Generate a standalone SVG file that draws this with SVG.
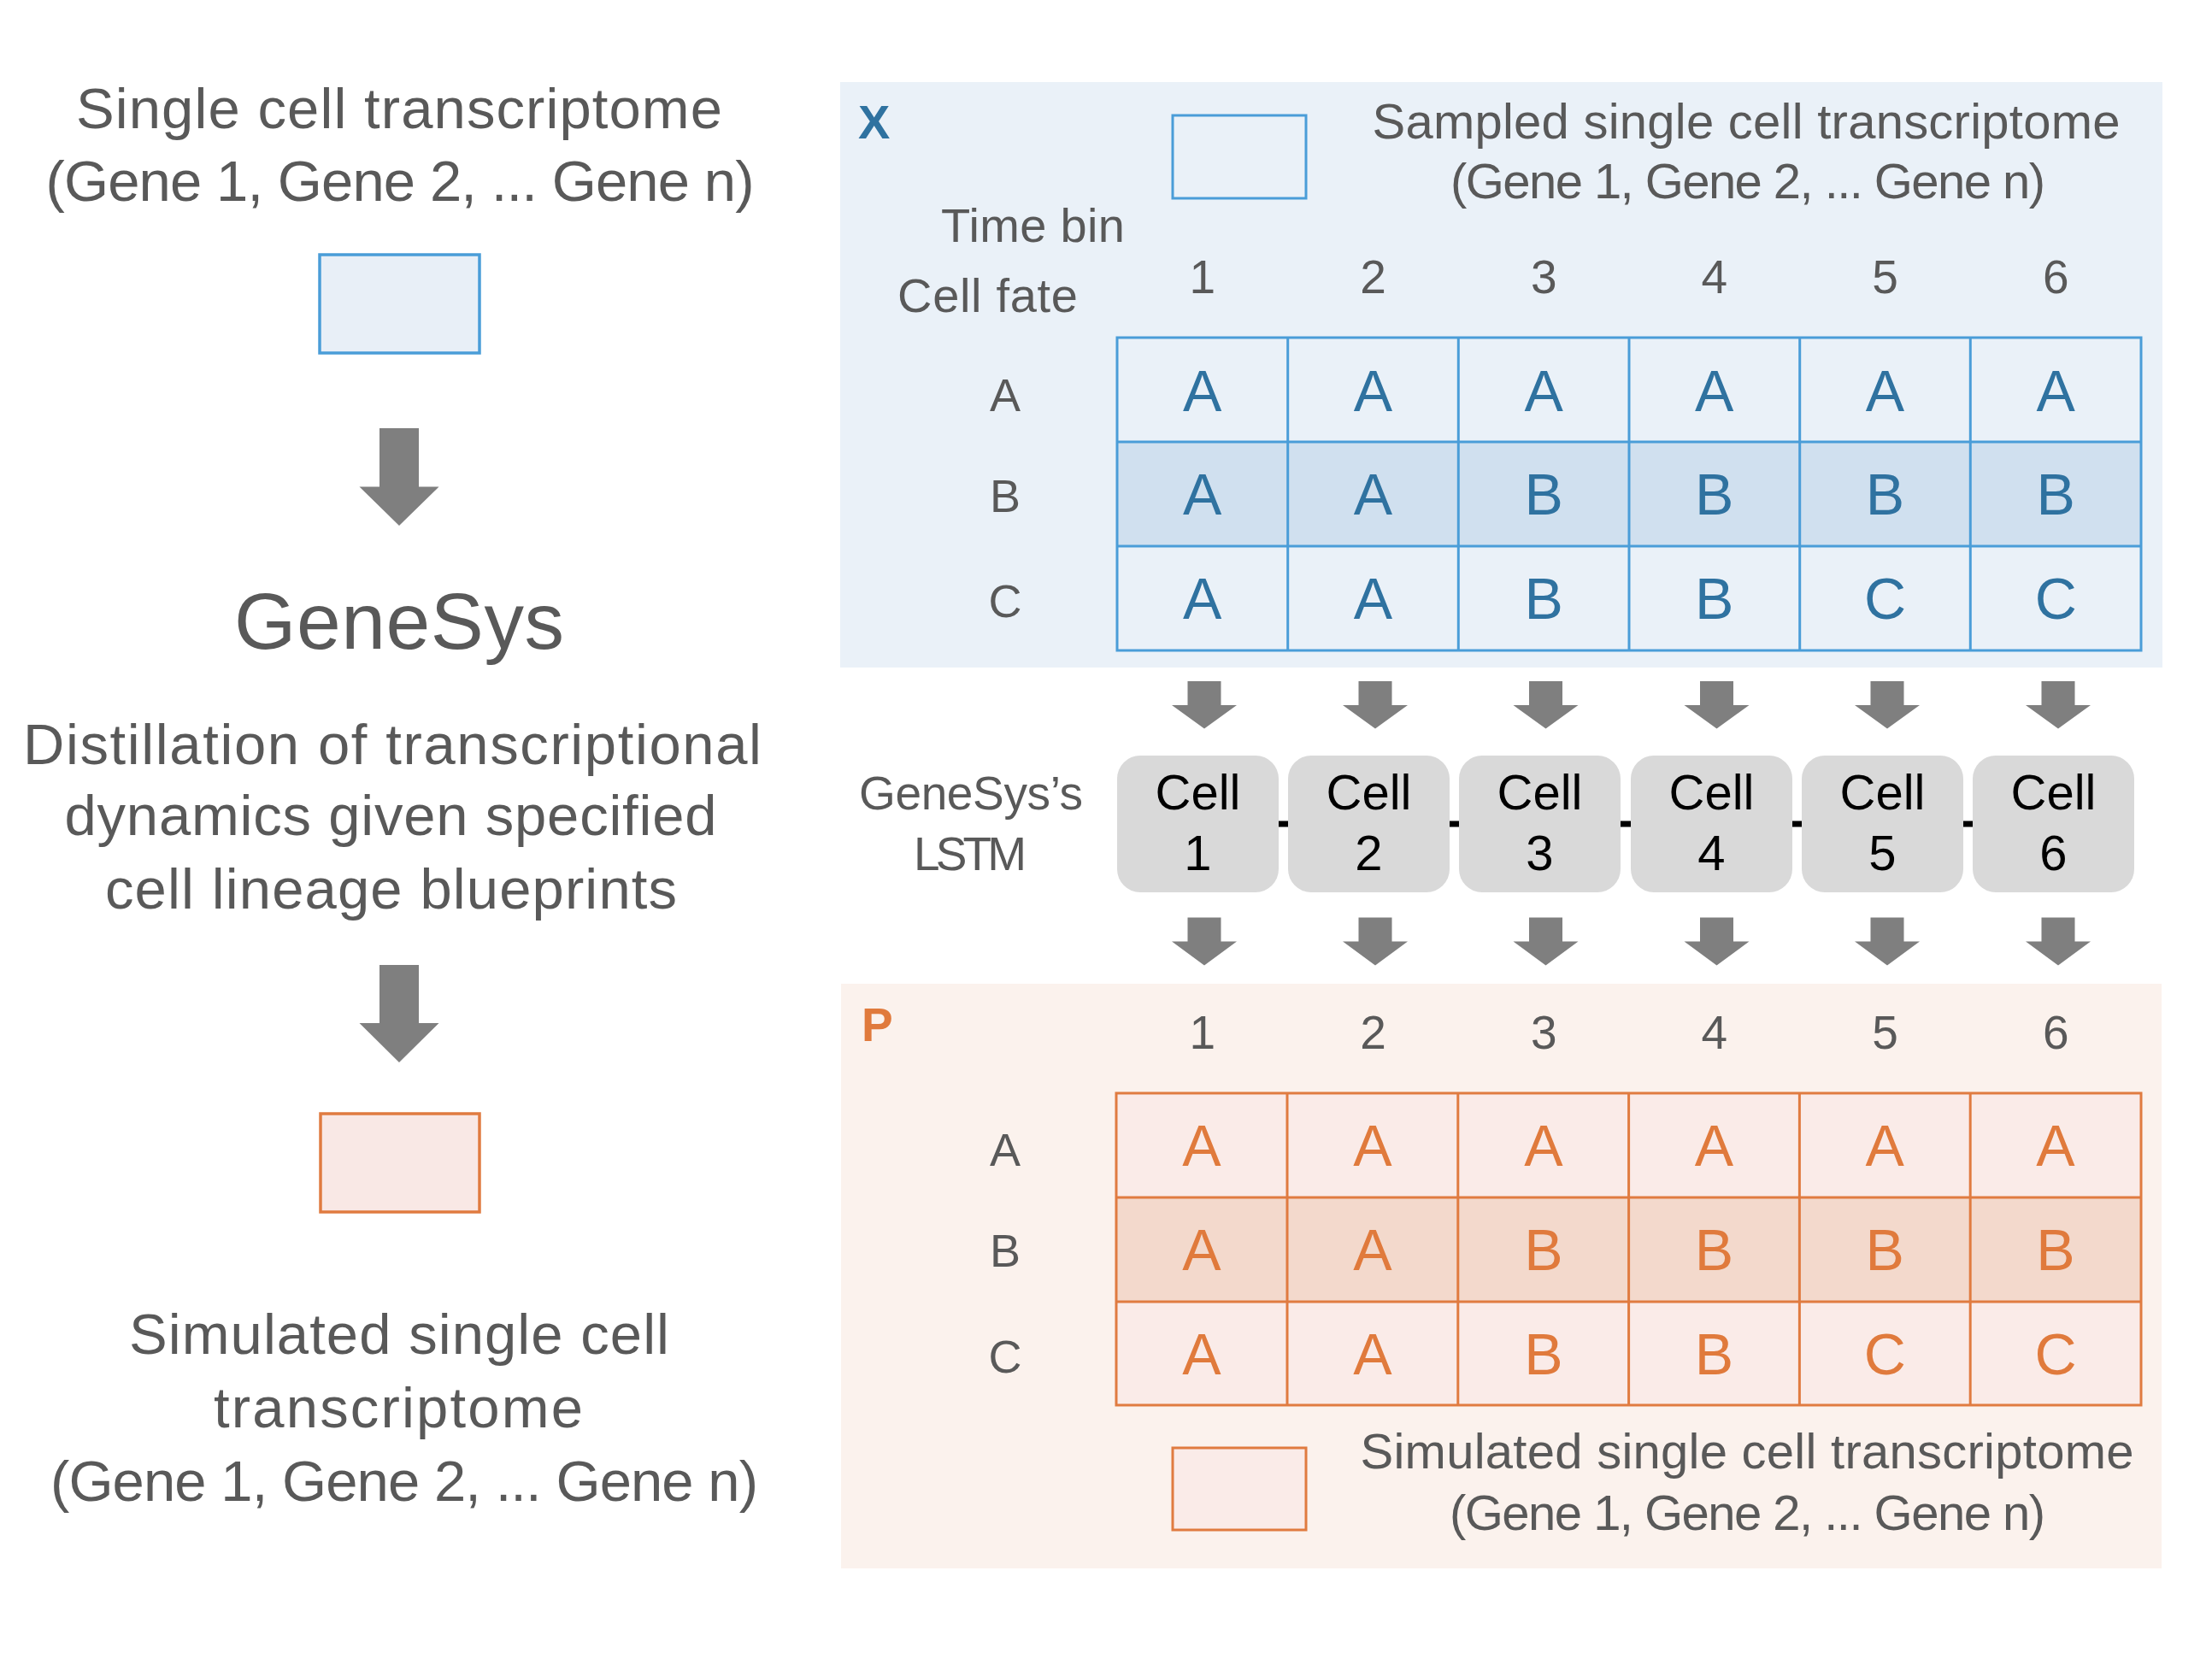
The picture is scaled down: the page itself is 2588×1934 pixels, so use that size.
<svg xmlns="http://www.w3.org/2000/svg" width="2588" height="1934" viewBox="0 0 2588 1934">
<style>
text{font-family:"Liberation Sans",Arial,sans-serif;}
.g{fill:#595959;}
.lc{font-size:67px;text-anchor:middle;}
.leg{font-size:58px;text-anchor:middle;}
.hd{font-size:55px;text-anchor:middle;}
.rl{font-size:54px;text-anchor:middle;}
.cb{font-size:68px;text-anchor:middle;fill:#2F72A0;}
.co{font-size:68px;text-anchor:middle;fill:#E07A3C;}
.bl{fill:none;stroke:#4A9DD8;stroke-width:3;}
.or{fill:none;stroke:#E07B40;stroke-width:3;}
.cellbox{fill:#D9D9D9;}
.ct{font-size:58px;text-anchor:middle;fill:#000;}
.arr{fill:#7F7F7F;}
.dash{stroke:#000;stroke-width:7;}
</style>
<rect width="2588" height="1934" fill="#FFFFFF"/>

<g id="left-input">
<text class="g lc" x="467" y="150" textLength="756">Single cell transcriptome</text>
<text class="g lc" x="468" y="235" textLength="829">(Gene 1, Gene 2, ... Gene n)</text>
<rect x="374" y="298" width="187" height="115" fill="#E8EFF7" stroke="#4A9DD8" stroke-width="3.5"/>
</g>

<g id="left-genesys">
<text class="g" x="467" y="759" font-size="93" text-anchor="middle" textLength="386">GeneSys</text>
<text class="g lc" x="459" y="894" textLength="864">Distillation of transcriptional</text>
<text class="g lc" x="457" y="977" textLength="763">dynamics given specified</text>
<text class="g lc" x="457.5" y="1063" textLength="669">cell lineage blueprints</text>
</g>

<g id="left-output">
<rect x="375" y="1303" width="186" height="115" fill="#F9E8E5" stroke="#E07B40" stroke-width="3.5"/>
<text class="g lc" x="467" y="1584" textLength="632">Simulated single cell</text>
<text class="g lc" x="466" y="1670" textLength="432">transcriptome</text>
<text class="g lc" x="473" y="1756" textLength="828">(Gene 1, Gene 2, ... Gene n)</text>
</g>

<g id="panel-x">
<rect x="983" y="96" width="1547" height="685" fill="#EAF1F8"/>
<text x="1004" y="162" font-size="56" font-weight="bold" fill="#2F72A0">X</text>
<rect x="1372" y="135" width="156" height="97" class="bl"/>
<text class="g leg" x="2043" y="162" textLength="875">Sampled single cell transcriptome</text>
<text class="g leg" x="2045" y="232" textLength="696">(Gene 1, Gene 2, ... Gene n)</text>
<text class="g" x="1101" y="283" font-size="56" textLength="215">Time bin</text>
<text class="g" x="1050" y="365" font-size="56" textLength="211">Cell fate</text>
<g class="g hd">
<text x="1406.8" y="343">1</text><text x="1606.5" y="343">2</text><text x="1806.2" y="343">3</text>
<text x="2005.8" y="343">4</text><text x="2205.5" y="343">5</text><text x="2405.2" y="343">6</text>
</g>
<g class="g rl">
<text x="1176" y="481">A</text><text x="1176" y="599">B</text><text x="1176" y="722">C</text>
</g>
<rect x="1307" y="517" width="1198" height="122" fill="#D0E0EF"/>
<g class="bl">
<rect x="1307" y="395" width="1198" height="366"/>
<line x1="1307" y1="517" x2="2505" y2="517"/>
<line x1="1307" y1="639" x2="2505" y2="639"/>
<line x1="1506.7" y1="395" x2="1506.7" y2="761"/>
<line x1="1706.3" y1="395" x2="1706.3" y2="761"/>
<line x1="1906" y1="395" x2="1906" y2="761"/>
<line x1="2105.7" y1="395" x2="2105.7" y2="761"/>
<line x1="2305.3" y1="395" x2="2305.3" y2="761"/>
</g>
<g class="cb">
<text x="1406.8" y="481">A</text><text x="1606.5" y="481">A</text><text x="1806.2" y="481">A</text>
<text x="2005.8" y="481">A</text><text x="2205.5" y="481">A</text><text x="2405.2" y="481">A</text>
<text x="1406.8" y="602">A</text><text x="1606.5" y="602">A</text><text x="1806.2" y="602">B</text>
<text x="2005.8" y="602">B</text><text x="2205.5" y="602">B</text><text x="2405.2" y="602">B</text>
<text x="1406.8" y="724">A</text><text x="1606.5" y="724">A</text><text x="1806.2" y="724">B</text>
<text x="2005.8" y="724">B</text><text x="2205.5" y="724">C</text><text x="2405.2" y="724">C</text>
</g>
</g>

<g id="lstm">
<text class="g" x="1136" y="947" font-size="55" text-anchor="middle" textLength="262">GeneSys’s</text>
<text class="g" x="1135" y="1018" font-size="55" text-anchor="middle" textLength="132">LSTM</text>
</g>
<g id="cell1"><rect class="cellbox" x="1307" y="884" width="189" height="160" rx="27"/><text class="ct" x="1401.5" y="947">Cell</text><text class="ct" x="1401.5" y="1018">1</text></g>
<g id="cell2"><rect class="cellbox" x="1507" y="884" width="189" height="160" rx="27"/><text class="ct" x="1601.5" y="947">Cell</text><text class="ct" x="1601.5" y="1018">2</text></g>
<g id="cell3"><rect class="cellbox" x="1707" y="884" width="189" height="160" rx="27"/><text class="ct" x="1801.5" y="947">Cell</text><text class="ct" x="1801.5" y="1018">3</text></g>
<g id="cell4"><rect class="cellbox" x="1908" y="884" width="189" height="160" rx="27"/><text class="ct" x="2002.5" y="947">Cell</text><text class="ct" x="2002.5" y="1018">4</text></g>
<g id="cell5"><rect class="cellbox" x="2108" y="884" width="189" height="160" rx="27"/><text class="ct" x="2202.5" y="947">Cell</text><text class="ct" x="2202.5" y="1018">5</text></g>
<g id="cell6"><rect class="cellbox" x="2308" y="884" width="189" height="160" rx="27"/><text class="ct" x="2402.5" y="947">Cell</text><text class="ct" x="2402.5" y="1018">6</text></g>

<g id="panel-p">
<rect x="984" y="1151" width="1545" height="684" fill="#FBF2ED"/>
<text x="1008" y="1218" font-size="55" font-weight="bold" fill="#E07A3C">P</text>
<g class="g hd">
<text x="1406.8" y="1227">1</text><text x="1606.5" y="1227">2</text><text x="1806.2" y="1227">3</text>
<text x="2005.8" y="1227">4</text><text x="2205.5" y="1227">5</text><text x="2405.2" y="1227">6</text>
</g>
<g class="g rl">
<text x="1176" y="1364">A</text><text x="1176" y="1482">B</text><text x="1176" y="1606">C</text>
</g>
<rect x="1306" y="1279" width="1199" height="365" fill="#FAEBE8"/>
<rect x="1306" y="1401" width="1199" height="122" fill="#F3D9CC"/>
<g class="or">
<rect x="1306" y="1279" width="1199" height="365"/>
<line x1="1306" y1="1401" x2="2505" y2="1401"/>
<line x1="1306" y1="1523" x2="2505" y2="1523"/>
<line x1="1506" y1="1279" x2="1506" y2="1644"/>
<line x1="1705.8" y1="1279" x2="1705.8" y2="1644"/>
<line x1="1905.6" y1="1279" x2="1905.6" y2="1644"/>
<line x1="2105.4" y1="1279" x2="2105.4" y2="1644"/>
<line x1="2305.2" y1="1279" x2="2305.2" y2="1644"/>
</g>
<g class="co">
<text x="1406" y="1364">A</text><text x="1606" y="1364">A</text><text x="1806" y="1364">A</text>
<text x="2005.5" y="1364">A</text><text x="2205.3" y="1364">A</text><text x="2405" y="1364">A</text>
<text x="1406" y="1486">A</text><text x="1606" y="1486">A</text><text x="1806" y="1486">B</text>
<text x="2005.5" y="1486">B</text><text x="2205.3" y="1486">B</text><text x="2405" y="1486">B</text>
<text x="1406" y="1608">A</text><text x="1606" y="1608">A</text><text x="1806" y="1608">B</text>
<text x="2005.5" y="1608">B</text><text x="2205.3" y="1608">C</text><text x="2405" y="1608">C</text>
</g>
<rect x="1372" y="1694" width="156" height="96" fill="#FAEBE8" stroke="#E07B40" stroke-width="3"/>
<text class="g leg" x="2044" y="1718" textLength="905">Simulated single cell transcriptome</text>
<text class="g leg" x="2044.5" y="1790" textLength="697">(Gene 1, Gene 2, ... Gene n)</text>
</g>

<g id="connectors">
<path class="arr" d="M444,501 H490 V569.5 H513.5 L467,615 L420.5,569.5 H444 Z"/>
<path class="arr" d="M444,1129 H490 V1197 H513.5 L467,1243 L420.5,1197 H444 Z"/>
<g class="arr">
<path d="M1389.5,797 H1428.5 V825 H1447 L1409,852.5 L1371,825 H1389.5 Z"/>
<path d="M1589.5,797 H1628.5 V825 H1647 L1609,852.5 L1571,825 H1589.5 Z"/>
<path d="M1789,797 H1828 V825 H1846.5 L1808.5,852.5 L1770.5,825 H1789 Z"/>
<path d="M1989,797 H2028 V825 H2046.5 L2008.5,852.5 L1970.5,825 H1989 Z"/>
<path d="M2188.5,797 H2227.5 V825 H2246 L2208,852.5 L2170,825 H2188.5 Z"/>
<path d="M2388.5,797 H2427.5 V825 H2446 L2408,852.5 L2370,825 H2388.5 Z"/>
<path d="M1389.5,1073.5 H1428.5 V1101.5 H1447 L1409,1129.5 L1371,1101.5 H1389.5 Z"/>
<path d="M1589.5,1073.5 H1628.5 V1101.5 H1647 L1609,1129.5 L1571,1101.5 H1589.5 Z"/>
<path d="M1789,1073.5 H1828 V1101.5 H1846.5 L1808.5,1129.5 L1770.5,1101.5 H1789 Z"/>
<path d="M1989,1073.5 H2028 V1101.5 H2046.5 L2008.5,1129.5 L1970.5,1101.5 H1989 Z"/>
<path d="M2188.5,1073.5 H2227.5 V1101.5 H2246 L2208,1129.5 L2170,1101.5 H2188.5 Z"/>
<path d="M2388.5,1073.5 H2427.5 V1101.5 H2446 L2408,1129.5 L2370,1101.5 H2388.5 Z"/>
</g>
<g class="dash">
<line x1="1496" y1="964" x2="1507" y2="964"/>
<line x1="1696" y1="964" x2="1707" y2="964"/>
<line x1="1896" y1="964" x2="1908" y2="964"/>
<line x1="2097" y1="964" x2="2108" y2="964"/>
<line x1="2297" y1="964" x2="2308" y2="964"/>
</g>
</g>
</svg>
